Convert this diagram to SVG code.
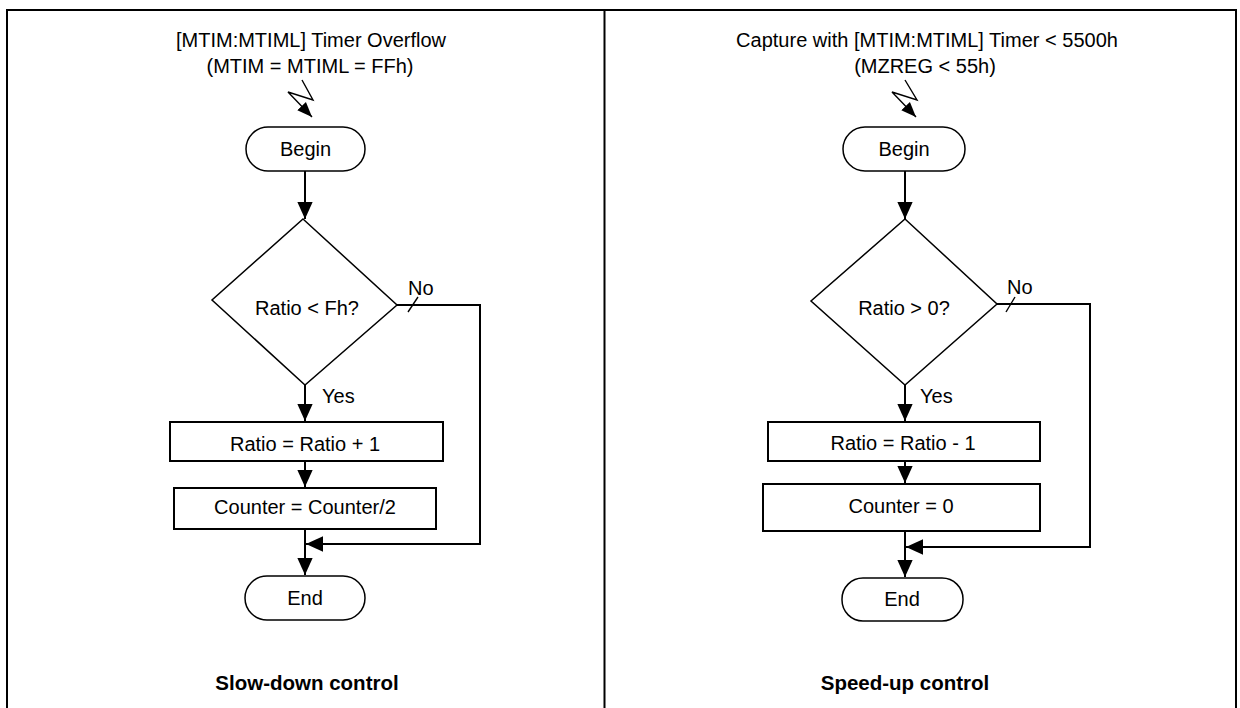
<svg xmlns="http://www.w3.org/2000/svg" width="1240" height="708" viewBox="0 0 1240 708">
<style>
  text { font-family: "Liberation Sans", Arial, sans-serif; font-size: 20px; fill: #000; }
  .c { text-anchor: middle; }
  .b { font-weight: bold; font-size: 20.5px; }
  .frame { fill: none; stroke: #000; stroke-width: 2; }
  .shape { fill: #fff; stroke: #000; stroke-width: 1.5; }
  .box { fill: #fff; stroke: #000; stroke-width: 2; }
  .line { fill: none; stroke: #000; stroke-width: 2; }
  .thin { fill: none; stroke: #000; stroke-width: 1.4; }
</style>
<defs>
  <marker id="arr" viewBox="0 0 10 10" refX="10" refY="5" markerWidth="17" markerHeight="17" markerUnits="userSpaceOnUse" orient="auto">
    <path d="M0,0.5 L10,5 L0,9.5 Z" fill="#000"/>
  </marker>
  <marker id="arrs" viewBox="0 0 10 10" refX="10" refY="5" markerWidth="15" markerHeight="15" markerUnits="userSpaceOnUse" orient="auto">
    <path d="M0,1 L10,5 L0,9 Z" fill="#000"/>
  </marker>
</defs>
<rect width="1240" height="708" fill="#fff"/>
<g id="frame">
  <path class="frame" d="M7,708 V10 H1236 V708 M604.5,10 V708"/>
</g>

<!-- Left panel -->
<g id="left-trigger">
  <text class="c" x="311" y="47">[MTIM:MTIML] Timer Overflow</text>
  <text class="c" x="310" y="73">(MTIM = MTIML = FFh)</text>
</g>
<g id="left-begin">
  <rect class="shape" x="246" y="127" width="119" height="44" rx="22" ry="22"/>
  <text class="c" x="305.5" y="156">Begin</text>
</g>
<g id="left-decision">
  <polygon class="shape" points="303,219 397,305 305,385 212,300"/>
  <text class="c" x="307" y="315">Ratio &lt; Fh?</text>
</g>
<g id="left-inc">
  <rect class="box" x="170" y="422" width="273" height="39"/>
  <text class="c" x="305" y="451">Ratio = Ratio + 1</text>
</g>
<g id="left-counter">
  <rect class="box" x="174" y="488" width="262" height="41"/>
  <text class="c" x="305" y="514">Counter = Counter/2</text>
</g>
<g id="left-end">
  <rect class="shape" x="245" y="576" width="120" height="44" rx="22" ry="22"/>
  <text class="c" x="305" y="605">End</text>
</g>
<g id="left-title">
  <text class="c b" x="307" y="690">Slow-down control</text>
</g>

<!-- Right panel -->
<g id="right-trigger">
  <text class="c" x="927" y="47">Capture with [MTIM:MTIML] Timer &lt; 5500h</text>
  <text class="c" x="925" y="73">(MZREG &lt; 55h)</text>
</g>
<g id="right-begin">
  <rect class="shape" x="843" y="127" width="122" height="44" rx="22" ry="22"/>
  <text class="c" x="904" y="156">Begin</text>
</g>
<g id="right-decision">
  <polygon class="shape" points="905,219 997,304 905,385 811,301"/>
  <text class="c" x="904" y="315">Ratio &gt; 0?</text>
</g>
<g id="right-dec">
  <rect class="box" x="768" y="422" width="272" height="39"/>
  <text class="c" x="903" y="450">Ratio = Ratio - 1</text>
</g>
<g id="right-counter">
  <rect class="box" x="763" y="484" width="277" height="47"/>
  <text class="c" x="901" y="513">Counter = 0</text>
</g>
<g id="right-end">
  <rect class="shape" x="842" y="578" width="121" height="43" rx="21" ry="21"/>
  <text class="c" x="902" y="606">End</text>
</g>
<g id="right-title">
  <text class="c b" x="905" y="690">Speed-up control</text>
</g>

<g id="connectors">
  <polyline class="thin" points="302,80 313,100 288,92 312,117" marker-end="url(#arrs)"/>
  <polyline class="thin" points="905,80 917,100 892,92 916,117" marker-end="url(#arrs)"/>

  <line class="line" x1="305" y1="171" x2="305" y2="219" marker-end="url(#arr)"/>
  <line class="line" x1="305" y1="385" x2="305" y2="421" marker-end="url(#arr)"/>
  <line class="line" x1="305" y1="461" x2="305" y2="487" marker-end="url(#arr)"/>
  <line class="line" x1="305" y1="529" x2="305" y2="575" marker-end="url(#arr)"/>
  <polyline class="line" points="397,305 480,305 480,544 306,544" marker-end="url(#arr)"/>
  <line class="thin" x1="408" y1="312" x2="418" y2="297"/>
  <text x="408" y="295">No</text>
  <text x="322" y="403">Yes</text>

  <line class="line" x1="905" y1="171" x2="905" y2="219" marker-end="url(#arr)"/>
  <line class="line" x1="905" y1="385" x2="905" y2="421" marker-end="url(#arr)"/>
  <line class="line" x1="905" y1="461" x2="905" y2="483" marker-end="url(#arr)"/>
  <line class="line" x1="905" y1="531" x2="905" y2="577" marker-end="url(#arr)"/>
  <polyline class="line" points="997,304 1090,304 1090,547 906,547" marker-end="url(#arr)"/>
  <line class="thin" x1="1006" y1="312" x2="1015" y2="297"/>
  <text x="1007" y="294">No</text>
  <text x="920" y="403">Yes</text>
</g>
</svg>
